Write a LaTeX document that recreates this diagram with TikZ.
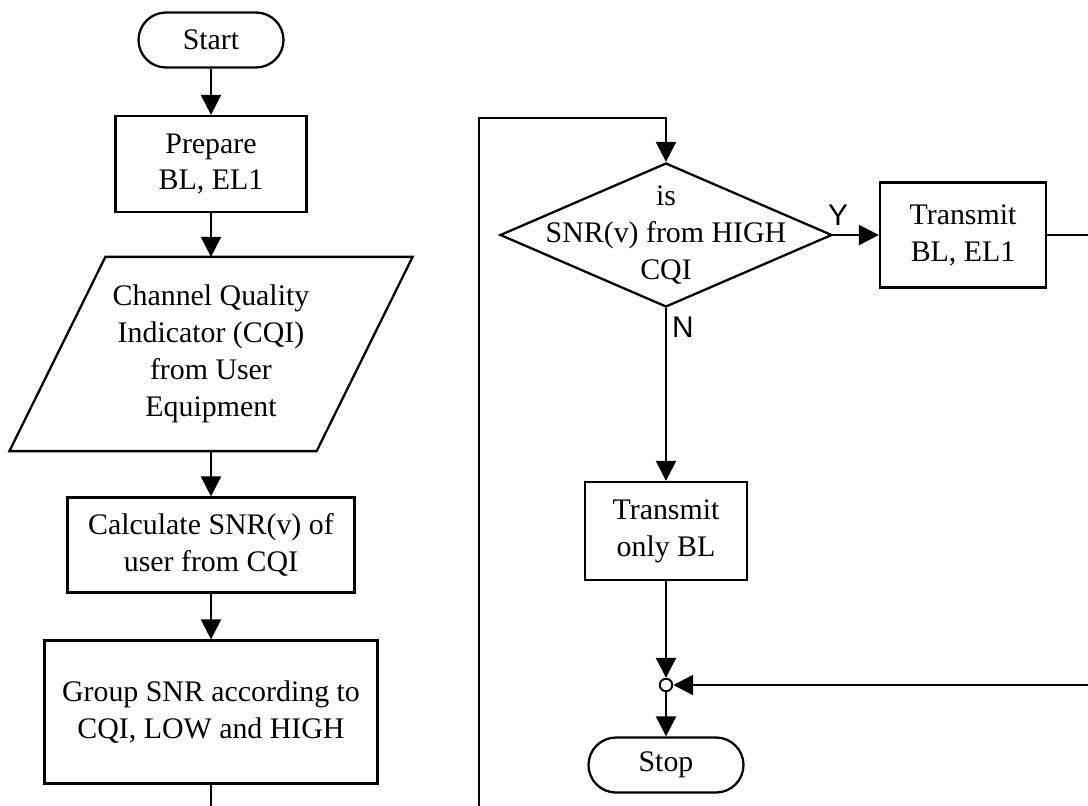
\documentclass[tikz,border=0pt]{standalone}
\usepackage{fontspec}
\setmainfont{Liberation Serif}
\newfontfamily\labfont{Liberation Sans}
\usetikzlibrary{shapes}
\usetikzlibrary{arrows.meta}

\begin{document}
\begin{tikzpicture}[x=0.02cm,y=-0.02cm,line width=1.3pt,font=\fontsize{17}{21}\selectfont,
	tnode/.style={draw,rectangle,rounded corners=0.55cm,minimum width=2.9cm,minimum height=1.1cm,inner sep=1pt},
	pnode/.style={draw,rectangle,align=center,inner sep=1pt},
	inode/.style={rectangle,align=center,minimum width=6.1cm,minimum height=3.84cm,inner sep=1pt},
	dnode/.style={draw,diamond,minimum width=6.64cm,minimum height=2.88cm,inner sep=0pt},
	jnode/.style={draw,circle,fill=white,minimum size=0.25cm,inner sep=0pt,line width=1.1pt},
	ynode/.style={font=\labfont\fontsize{17}{20}\selectfont},
	arr/.style={-{Triangle[length=0.4cm,width=0.4cm]}}]
	
	\useasboundingbox (0,0) rectangle (1088,805);
	\clip (0,0) rectangle (1088,805);
	
	\node[tnode] (start) at (211,40) {Start};
	\node[pnode,minimum width=3.82cm,minimum height=1.92cm] (prep) at (211,164) {Prepare\\BL, EL1};
	\node[inode] (io) at (211,354) {Channel Quality\\Indicator (CQI)\\from User\\Equipment};
	\node[pnode,minimum width=5.74cm,minimum height=1.9cm] (calc) at (211,545) {Calculate SNR(v) of\\user from CQI};
	\node[pnode,minimum width=6.66cm,minimum height=2.86cm] (grp) at (211,712) {Group SNR according to\\CQI, LOW and HIGH};
	
	\node[dnode,label={[align=center]center:is\\SNR(v) from HIGH\\CQI}] (dec) at (666,235) {};
	\node[pnode,minimum width=3.32cm,minimum height=2.1cm] (tx1) at (963,235) {Transmit\\BL, EL1};
	\node[pnode,minimum width=3.24cm,minimum height=1.96cm] (tx2) at (666,531) {Transmit\\only BL};
	\node[jnode] (jn) at (666,685) {};
	\node[tnode,minimum width=3.1cm] (stop) at (666,765) {Stop};
	
	\node[ynode] (ylab) at (838,215) {Y};
	\node[ynode] (nlab) at (683,327) {N};
	
	\draw ([xshift=0.96cm]io.north west) -- ([xshift=0.96cm]io.north east) -- ([xshift=-0.96cm]io.south east) -- ([xshift=-0.96cm]io.south west) -- cycle;
	
	\draw[arr] (start) -- (prep);
	\draw[arr] (prep) -- (io);
	\draw[arr] (io) -- (calc);
	\draw[arr] (calc) -- (grp);
	\draw[arr] (grp.south) |- (479,850) |- (666,118) -- (dec.north);
	\draw[arr] (dec.east) -- (tx1.west);
	\draw[arr] (dec.south) -- (tx2.north);
	\draw[arr] (tx2) -- (jn);
	\draw[arr] (tx1.east) -| (1110,685) -- (jn);
	\draw[arr] (jn) -- (stop);
\end{tikzpicture}
\end{document}
